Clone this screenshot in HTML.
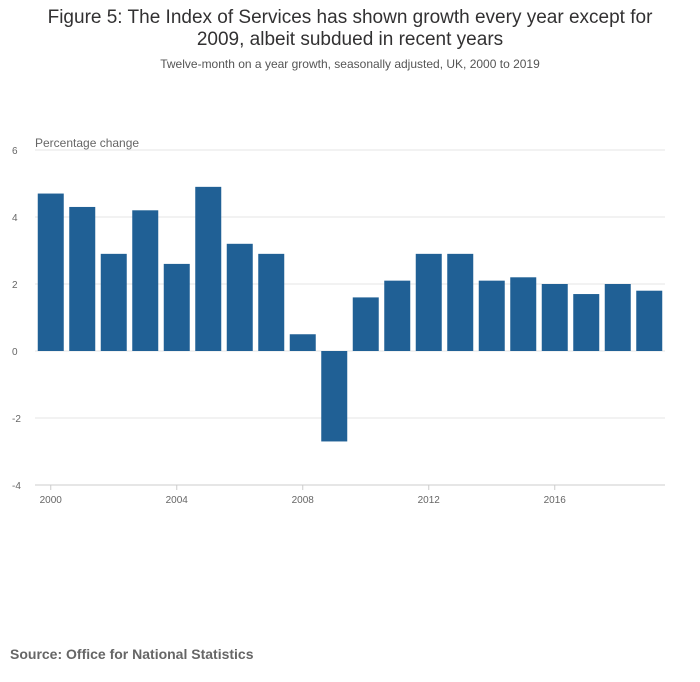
<!DOCTYPE html>
<html><head><meta charset="utf-8">
<style>
body{margin:0;background:#fff;width:700px;height:682px;overflow:hidden;font-family:"Liberation Sans",sans-serif}
#title{position:absolute;left:0;width:700px;top:7px;text-align:center;font-size:19px;line-height:22px;color:#323132}
#sub{position:absolute;left:0;width:700px;top:57px;text-align:center;font-size:12px;color:#555}
#src{position:absolute;left:10px;top:646px;font-size:14px;font-weight:bold;color:#666}
svg{position:absolute;left:0;top:0}
</style></head><body>
<div id="title">Figure 5: The Index of Services has shown growth every year except for<br>2009, albeit subdued in recent years</div>
<div id="sub">Twelve-month on a year growth, seasonally adjusted, UK, 2000 to 2019</div>
<div id="src">Source: Office for National Statistics</div>
<svg id="chart" width="700" height="682"></svg>
<script>
const years=[2000,2001,2002,2003,2004,2005,2006,2007,2008,2009,2010,2011,2012,2013,2014,2015,2016,2017,2018,2019];
const values=[4.7,4.3,2.9,4.2,2.6,4.9,3.2,2.9,0.5,-2.7,1.6,2.1,2.9,2.9,2.1,2.2,2.0,1.7,2.0,1.8];
const yTicks=[-4,-2,0,2,4,6];
const xTicks=[2000,2004,2008,2012,2016];
const svg=document.getElementById('chart');
const NS='http://www.w3.org/2000/svg';
const x0=35,x1=665,step=(x1-x0)/years.length;
function y(v){return 351-v*33.5;}
function xc(yr){return x0+step*(yr-years[0]+0.5);}
function mk(t,a){const e=document.createElementNS(NS,t);for(const k in a)e.setAttribute(k,a[k]);svg.appendChild(e);return e;}
yTicks.forEach(t=>{
 const l=mk('line',{x1:x0,x2:x1,y1:y(t),y2:y(t),stroke:t==-4?'#ccc':'#e6e6e6','stroke-width':1});
 
 
 const tx=mk('text',{x:12,y:y(t)+4,'font-size':10,fill:'#666','text-anchor':'start'});
 tx.textContent=t;
 
 
});
const yt=mk('text',{x:35,y:147,'font-size':12,fill:'#666'});
yt.textContent='Percentage change';


years.forEach((yr,i)=>{
 const v=values[i];
 const r=mk('rect',{x:xc(yr)-13,width:26,y:Math.min(y(v),y(0)),height:Math.abs(y(v)-y(0)),fill:'#206095'});
 
 
});
xTicks.forEach(t=>{
 const l=mk('line',{x1:xc(t),x2:xc(t),y1:485,y2:490,stroke:'#ccc'});
 
 
 const tx=mk('text',{x:xc(t),y:503,'font-size':10,fill:'#666','text-anchor':'middle'});
 tx.textContent=t;
 
 
});
</script>
</body></html>
